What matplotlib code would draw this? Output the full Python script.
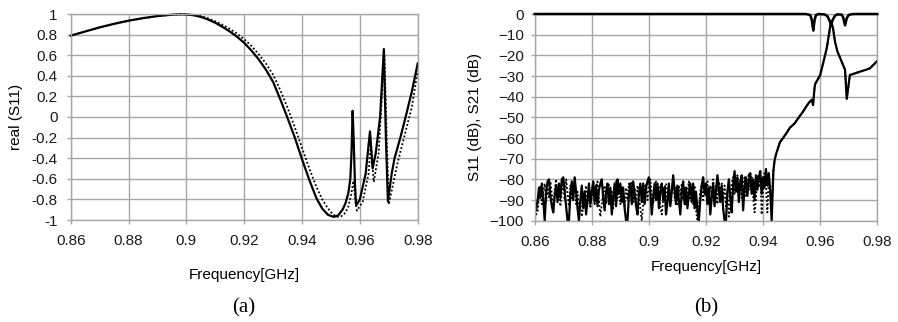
import numpy as np
import matplotlib.pyplot as plt

# ---- (a) real(S11) ----
f_re_sim = [0.860, 0.865, 0.870, 0.875, 0.880, 0.885, 0.890, 0.895, 0.898, 0.900,
            0.9025, 0.905, 0.9075, 0.910, 0.9125, 0.915, 0.9175, 0.920, 0.9225, 0.925,
            0.9275, 0.930, 0.9325, 0.935, 0.9375, 0.940, 0.9425, 0.945, 0.947, 0.949,
            0.951, 0.9525, 0.954, 0.955, 0.956, 0.9567, 0.9571, 0.9575, 0.9579, 0.9583,
            0.9587, 0.960, 0.962, 0.9635, 0.9644, 0.9655, 0.967, 0.9683, 0.969, 0.9697,
            0.971, 0.972, 0.974, 0.976, 0.978, 0.980]
re_sim = [0.79, 0.83, 0.87, 0.905, 0.935, 0.96, 0.98, 0.993, 0.997, 0.995,
          0.988, 0.972, 0.947, 0.915, 0.875, 0.83, 0.78, 0.72, 0.645, 0.56,
          0.46, 0.34, 0.17, -0.01, -0.20, -0.41, -0.61, -0.79, -0.89, -0.95,
          -0.97, -0.955, -0.90, -0.84, -0.74, -0.60, -0.35, 0.06, -0.25, -0.65,
          -0.86, -0.80, -0.55, -0.14, -0.50, -0.35, 0.0, 0.66, -0.20, -0.82,
          -0.55, -0.40, -0.20, 0.02, 0.25, 0.52]

f_re_meas = [0.860, 0.870, 0.880, 0.890, 0.895, 0.900, 0.9025, 0.905, 0.9075, 0.910,
             0.9125, 0.915, 0.9175, 0.920, 0.9225, 0.925, 0.9275, 0.930, 0.9325, 0.935,
             0.9375, 0.940, 0.9425, 0.945, 0.947, 0.949, 0.9505, 0.952, 0.9535, 0.955,
             0.956, 0.957, 0.9578, 0.9583, 0.959, 0.961, 0.963, 0.9638, 0.9648, 0.9665,
             0.968, 0.9685, 0.9693, 0.970, 0.9715, 0.973, 0.976, 0.978, 0.980]
re_meas = [0.79, 0.87, 0.935, 0.98, 0.993, 0.998, 0.992, 0.98, 0.958, 0.93,
           0.895, 0.855, 0.81, 0.755, 0.69, 0.61, 0.52, 0.41, 0.26, 0.09,
           -0.10, -0.30, -0.50, -0.68, -0.80, -0.89, -0.94, -0.97, -0.965, -0.93,
           -0.87, -0.75, -0.62, -0.78, -0.91, -0.82, -0.55, -0.25, -0.63, -0.35,
           0.40, 0.60, -0.20, -0.85, -0.65, -0.45, -0.12, 0.10, 0.45]

# ---- (b) S11 / S21 in dB ----
f_stop = np.linspace(0.86, 0.943, 167)   # sampling grid of stopband
s21_stop_sim = [
    -88, -95, -91, -84, -89, -82, -90, -100, -86, -81,
    -80, -88, -93, -96, -88, -83, -91, -82, -89, -80,
    -79, -86, -93, -100, -100, -87, -81, -90, -79, -86,
    -94, -100, -90, -83, -94, -86, -97, -90, -82, -92,
    -86, -81, -91, -83, -93, -85, -82, -80, -89, -95,
    -86, -82, -92, -84, -97, -89, -82, -93, -80, -87,
    -82, -91, -84, -94, -100, -100, -88, -82, -92, -81,
    -87, -93, -97, -87, -82, -91, -82, -92, -84, -81,
    -79, -86, -97, -89, -82, -90, -82, -94, -86, -82,
    -90, -84, -97, -91, -82, -93, -86, -78, -85, -92,
    -83, -90, -97, -86, -81, -92, -84, -94, -87, -82,
    -91, -82, -94, -86, -95, -100, -90, -83, -79, -87,
    -82, -92, -84, -97, -89, -82, -93, -86, -78, -85,
    -91, -83, -94, -100, -100, -86, -80, -89, -96, -83,
    -76, -86, -79, -91, -82, -78, -95, -84, -79, -88,
    -81, -77, -87, -80, -90, -78, -85, -79, -76, -87,
    -79, -84, -75, -83, -77, -86, -100]
s21_stop_meas = [
    -93, -97, -96, -88, -83, -92, -86, -82, -91, -84,
    -89, -81, -87, -94, -85, -80, -89, -83, -93, -86,
    -82, -90, -80, -87, -93, -83, -90, -84, -81, -92,
    -86, -95, -91, -98, -93, -87, -83, -92, -84, -94,
    -88, -82, -92, -84, -81, -90, -98, -92, -86, -83,
    -92, -84, -82, -90, -86, -94, -83, -81, -89, -84,
    -92, -83, -88, -93, -84, -90, -82, -87, -81, -91,
    -84, -92, -83, -88, -94, -100, -92, -84, -82, -90,
    -83, -80, -87, -92, -84, -81, -89, -83, -93, -97,
    -90, -84, -82, -89, -83, -92, -86, -81, -89, -84,
    -92, -83, -88, -82, -90, -84, -93, -86, -81, -90,
    -84, -92, -83, -95, -100, -93, -86, -82, -90, -84,
    -88, -81, -90, -83, -87, -80, -89, -83, -92, -81,
    -87, -82, -90, -83, -93, -86, -98, -90, -82, -79,
    -87, -81, -78, -86, -80, -89, -82, -79, -88, -81,
    -77, -85, -79, -88, -96, -90, -78, -84, -76, -97,
    -85, -77, -83, -96, -79, -86, -92]

f_pass = [0.9436, 0.944, 0.9445, 0.9452, 0.9459, 0.947, 0.948, 0.9494, 0.951, 0.952,
          0.9541, 0.955, 0.956, 0.957, 0.9575, 0.958, 0.9582, 0.959, 0.960, 0.961,
          0.9623, 0.9634, 0.9638, 0.9645, 0.9652, 0.966, 0.9675, 0.9687, 0.9693, 0.9704,
          0.972, 0.9739, 0.976, 0.9774, 0.9798, 0.980]
s21_pass = [-76, -71, -68, -65, -62, -60, -58, -55, -53, -51,
            -47, -45, -43, -41.5, -44, -36, -34, -32, -29.5, -24,
            -16.5, -7, -3.5, -7, -13.5, -18, -23, -27, -41, -29.5,
            -28.8, -27.9, -27, -26.3, -23, -22.7]

f_s11 = [0.860, 0.955, 0.9565, 0.957, 0.9576, 0.958, 0.9585, 0.9595, 0.9615, 0.9625,
         0.9632, 0.9638, 0.9645, 0.9652, 0.966, 0.9675, 0.968, 0.9687, 0.9693, 0.970,
         0.971, 0.972, 0.980]
s11_sim = [0, 0, -0.5, -2.5, -8, -3, -0.5, 0, -0.2, -1,
           -3, -5, -2.5, -0.8, -0.2, -0.3, -1.5, -5.5, -2, -0.5,
           -0.1, 0, 0]
s11_meas = [0, 0, -0.6, -3, -8.5, -3.5, -0.6, 0, -0.2, -1,
            -3, -5, -2.5, -0.8, -0.2, -0.3, -1.5, -5, -2, -0.5,
            -0.1, 0, 0]

gridc = '#a6a6a6'
plt.rcParams['font.family'] = ['Liberation Sans', 'DejaVu Sans']

fig = plt.figure(figsize=(8.98, 3.22), dpi=100)
W, H = 898.0, 322.0
dots = (0, (1, 1.2))


def style(ax, ypad):
    ax.grid(True, color=gridc, linewidth=1.0)
    ax.set_axisbelow(True)
    for s in ax.spines.values():
        s.set_color(gridc)
        s.set_linewidth(1.0)
    ax.tick_params(axis='both', color=gridc, length=3, width=1.0,
                   labelsize=11, labelcolor='#1a1a1a')
    ax.tick_params(axis='x', pad=7)
    ax.tick_params(axis='y', pad=ypad)
    ax.set_xlim(0.86, 0.98)
    ax.set_xticks([0.86, 0.88, 0.9, 0.92, 0.94, 0.96, 0.98])
    ax.set_xticklabels(['0.86', '0.88', '0.9', '0.92', '0.94', '0.96', '0.98'])


# left panel
ax1 = fig.add_axes([70.7 / W, 1 - 220 / H, 347 / W, 206 / H])
style(ax1, 6.5)
ax1.plot(f_re_meas, re_meas, color='black', linestyle=dots, linewidth=1.3, clip_on=False)
ax1.plot(f_re_sim, re_sim, color='black', linewidth=1.6, clip_on=False)
ax1.set_ylim(-1, 1)
yt = [1, 0.8, 0.6, 0.4, 0.2, 0, -0.2, -0.4, -0.6, -0.8, -1]
ax1.set_yticks(yt)
ax1.set_yticklabels(['%g' % v for v in yt])

# right panel
ax2 = fig.add_axes([534.7 / W, 1 - 220.7 / H, 342.6 / W, 206.7 / H])
style(ax2, 4.8)
f_s21 = np.concatenate([f_stop, f_pass])
ax2.plot(f_s21, np.concatenate([s21_stop_meas, s21_pass]), color='black',
         linestyle=dots, linewidth=1.3)
ax2.plot(f_s21, np.concatenate([s21_stop_sim, s21_pass]), color='black', linewidth=1.6)
ax2.plot(f_s11, s11_meas, color='black', linestyle=dots, linewidth=1.3, clip_on=False)
ax2.plot(f_s11, s11_sim, color='black', linewidth=1.8, clip_on=False, zorder=3)
ax2.set_ylim(-100, 0)
ax2.set_yticks(np.arange(-100, 1, 10))

# labels
fig.text(244 / W, 1 - 275 / H, 'Frequency[GHz]', ha='center', va='center', fontsize=11)
fig.text(706 / W, 1 - 267 / H, 'Frequency[GHz]', ha='center', va='center', fontsize=11)
fig.text(16 / W, 1 - 117 / H, 'real (S11)', ha='center', va='center', rotation=90, fontsize=11)
fig.text(475 / W, 1 - 117 / H, 'S11 (dB), S21 (dB)', ha='center', va='center',
         rotation=90, fontsize=11)
fig.text(244 / W, 1 - 308 / H, '(a)', ha='center', va='center', fontsize=15,
         family=['Liberation Serif', 'DejaVu Serif'])
fig.text(706 / W, 1 - 308 / H, '(b)', ha='center', va='center', fontsize=15,
         family=['Liberation Serif', 'DejaVu Serif'])

fig.savefig('out.png', dpi=100)
